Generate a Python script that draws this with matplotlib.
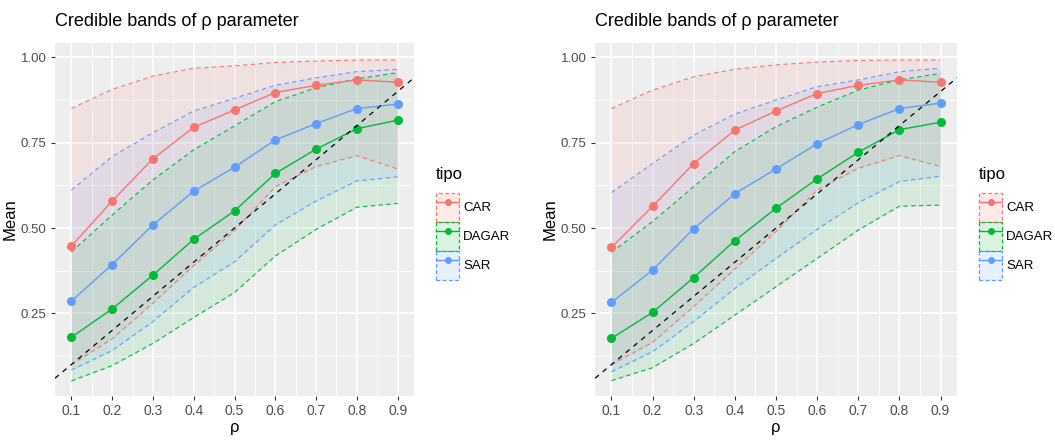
import matplotlib
matplotlib.use("Agg")
import matplotlib.pyplot as plt
from matplotlib.lines import Line2D
from matplotlib.patches import Patch
import numpy as np

plt.rcParams['font.family'] = ['Liberation Sans', 'DejaVu Sans']

rho = [0.1, 0.2, 0.3, 0.4, 0.5, 0.6, 0.7, 0.8, 0.9]
tipos = ["CAR", "DAGAR", "SAR"]
colores = {"CAR": "#F8766D", "DAGAR": "#00BA38", "SAR": "#619CFF"}

# first run
car_mean_1 = [0.447, 0.579, 0.703, 0.795, 0.846, 0.897, 0.918, 0.934, 0.927]
car_low_1 = [0.100, 0.175, 0.280, 0.390, 0.492, 0.621, 0.680, 0.712, 0.673]
car_up_1 = [0.850, 0.906, 0.945, 0.968, 0.975, 0.985, 0.989, 0.992, 0.992]
dagar_mean_1 = [0.180, 0.263, 0.362, 0.467, 0.550, 0.660, 0.731, 0.791, 0.816]
dagar_low_1 = [0.052, 0.097, 0.162, 0.238, 0.311, 0.418, 0.496, 0.561, 0.572]
dagar_up_1 = [0.430, 0.538, 0.641, 0.729, 0.799, 0.870, 0.911, 0.937, 0.955]
sar_mean_1 = [0.286, 0.393, 0.509, 0.608, 0.678, 0.758, 0.806, 0.850, 0.863]
sar_low_1 = [0.084, 0.141, 0.226, 0.326, 0.401, 0.509, 0.579, 0.638, 0.650]
sar_up_1 = [0.611, 0.709, 0.779, 0.843, 0.880, 0.918, 0.940, 0.958, 0.965]

# second run
car_mean_2 = [0.443, 0.564, 0.689, 0.787, 0.843, 0.894, 0.918, 0.934, 0.927]
car_low_2 = [0.100, 0.165, 0.270, 0.380, 0.490, 0.611, 0.675, 0.712, 0.680]
car_up_2 = [0.850, 0.904, 0.943, 0.965, 0.978, 0.986, 0.991, 0.992, 0.992]
dagar_mean_2 = [0.177, 0.253, 0.355, 0.463, 0.558, 0.644, 0.722, 0.788, 0.810]
dagar_low_2 = [0.053, 0.091, 0.162, 0.245, 0.328, 0.411, 0.494, 0.564, 0.567]
dagar_up_2 = [0.429, 0.519, 0.621, 0.724, 0.797, 0.854, 0.904, 0.934, 0.953]
sar_mean_2 = [0.282, 0.377, 0.498, 0.601, 0.673, 0.747, 0.803, 0.850, 0.866]
sar_low_2 = [0.079, 0.138, 0.226, 0.323, 0.411, 0.496, 0.574, 0.636, 0.652]
sar_up_2 = [0.604, 0.689, 0.772, 0.834, 0.875, 0.914, 0.934, 0.958, 0.968]

run1 = {"CAR": (car_mean_1, car_low_1, car_up_1),
        "DAGAR": (dagar_mean_1, dagar_low_1, dagar_up_1),
        "SAR": (sar_mean_1, sar_low_1, sar_up_1)}
run2 = {"CAR": (car_mean_2, car_low_2, car_up_2),
        "DAGAR": (dagar_mean_2, dagar_low_2, dagar_up_2),
        "SAR": (sar_mean_2, sar_low_2, sar_up_2)}

W, H = 1055, 440
fig = plt.figure(figsize=(W / 100, H / 100), dpi=100)
fig.patch.set_facecolor("white")


def panel(ax, datos, width_px):
    ax.set_facecolor("#EEEEEE")
    ax.set_xlim(0.06, 0.94)
    ax.set_ylim(0.008, 1.042)
    ax.set_xticks(rho)
    ax.set_xticklabels(["{:.1f}".format(r) for r in rho])
    ax.set_xticks(np.arange(0.15, 0.9, 0.1), minor=True)
    ax.set_yticks([0.25, 0.50, 0.75, 1.00])
    ax.set_yticklabels(["0.25", "0.50", "0.75", "1.00"])
    ax.set_yticks([0.125, 0.375, 0.625, 0.875], minor=True)
    ax.grid(which="major", color="white", lw=1.1, zorder=0)
    ax.grid(which="minor", color="white", lw=0.55, zorder=0)
    ax.set_axisbelow(True)
    for s in ax.spines.values():
        s.set_visible(False)
    ax.tick_params(which="major", length=3, color="#333333", labelsize=10,
                   labelcolor="#4D4D4D", pad=3)
    ax.tick_params(axis="y", labelsize=9.5)
    ax.tick_params(which="minor", length=0)

    for t in tipos:
        m, lo, up = datos[t]
        c = colores[t]
        ax.fill_between(rho, lo, up, color=c, alpha=0.1, lw=0, zorder=1)
        ax.plot(rho, lo, color=c, lw=0.8, ls=(0, (4, 3)), zorder=2)
        ax.plot(rho, up, color=c, lw=0.8, ls=(0, (4, 3)), zorder=2)
    for t in tipos:
        m, lo, up = datos[t]
        ax.plot(rho, m, color=colores[t], lw=1.0, marker="o", ms=5.5, zorder=3)

    ax.axline((0, 0), slope=1, color="black", lw=0.9, ls=(0, (4, 4)), zorder=4)

    ax.set_xlabel("ρ", fontsize=12, labelpad=1)
    ax.set_ylabel("Mean", fontsize=12)
    ax.yaxis.set_label_coords(-37 / width_px, 0.5)
    ax.set_title("Credible bands of ρ parameter", loc="left", fontsize=13, pad=12)

    # legend: title as separate text, keys below it
    x_leg = 1 + 22 / width_px
    ax.text(x_leg, (396 - 175) / 353, "tipo", transform=ax.transAxes,
            fontsize=12, va="center", ha="left")
    handles = []
    for t in tipos:
        c = colores[t]
        caja = Patch(facecolor=matplotlib.colors.to_rgba(c, 0.15), edgecolor=c,
                     linestyle=(0, (3, 2)), lw=0.9)
        linea = Line2D([], [], color=c, lw=1.0, marker="o", ms=4)
        handles.append((caja, linea))
    ax.legend(handles, tipos, loc="upper left",
              bbox_to_anchor=(x_leg, (396 - 193) / 353), frameon=False,
              fontsize=9.5, handlelength=1.75, handleheight=3.0,
              labelspacing=0.0, handletextpad=0.3, borderaxespad=0,
              borderpad=0)


ax1 = fig.add_axes([55 / W, (H - 396) / H, (414 - 55) / W, (396 - 43) / H])
panel(ax1, run1, 414 - 55)
ax2 = fig.add_axes([595 / W, (H - 396) / H, (957 - 595) / W, (396 - 43) / H])
panel(ax2, run2, 957 - 595)

fig.savefig("out.png", dpi=100)
